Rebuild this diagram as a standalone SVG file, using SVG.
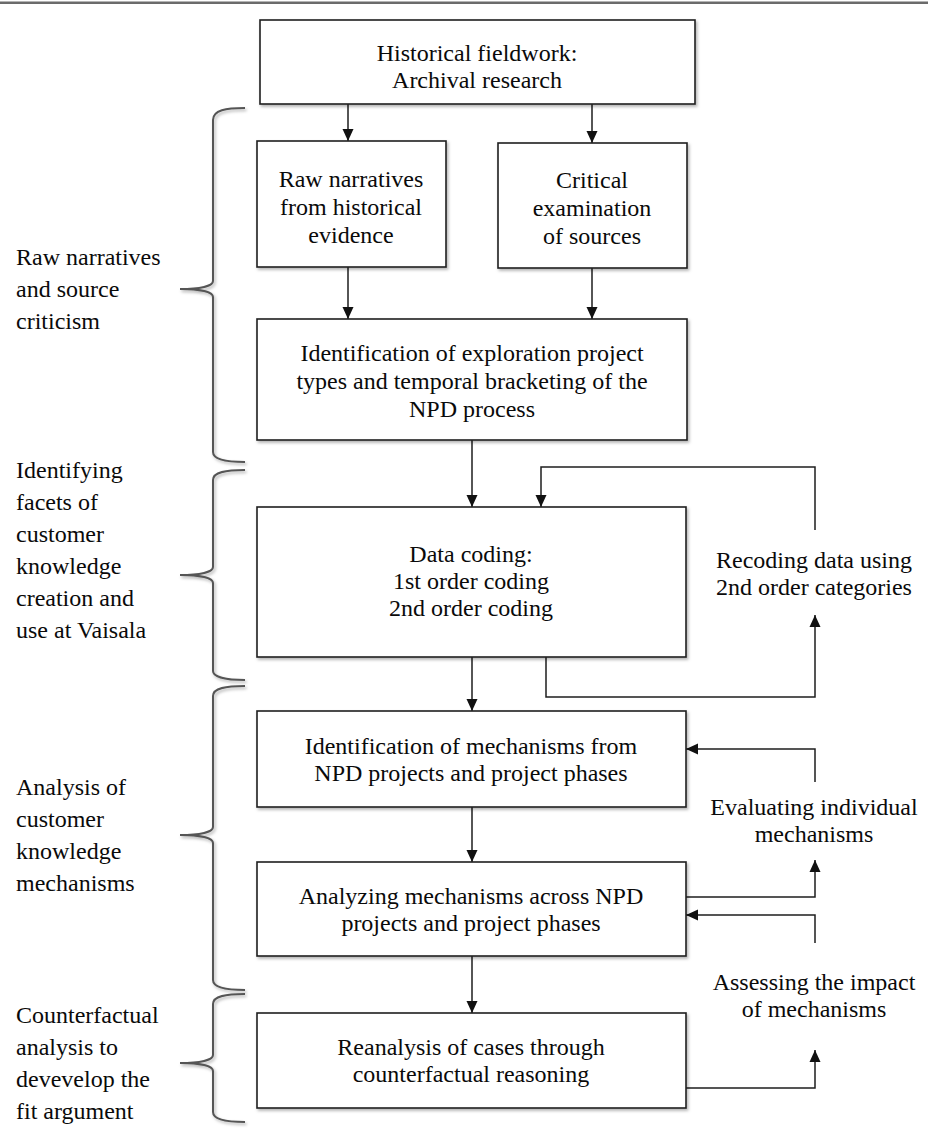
<svg xmlns="http://www.w3.org/2000/svg" width="928" height="1142" viewBox="0 0 928 1142" font-family="'Liberation Serif', 'Times New Roman', 'DejaVu Serif', serif">
<style>
  .box { fill: #ffffff; stroke: #1e1e1e; stroke-width: 1.6; filter: url(#shadow); }
  .t { font-family: 'Liberation Serif', 'Times New Roman', 'DejaVu Serif', serif; font-size: 24px; fill: #0a0a0a; }
  .c { text-anchor: middle; }
  .conn { fill: none; stroke: #1e1e1e; stroke-width: 1.5; }
  .arr { marker-end: url(#ah); }
  .brace { fill: none; stroke: #555555; stroke-width: 2; filter: url(#shadow); }
</style>
<defs>
  <filter id="shadow" x="-10%" y="-10%" width="130%" height="130%">
    <feDropShadow dx="1.5" dy="2" stdDeviation="1.5" flood-color="#000000" flood-opacity="0.3"/>
  </filter>
  <marker id="ah" markerUnits="userSpaceOnUse" markerWidth="12" markerHeight="12" refX="12" refY="6" orient="auto">
    <path d="M0,0.5 L12,6 L0,11.5 z" fill="#111111"/>
  </marker>
</defs>
<rect width="928" height="1142" fill="#ffffff"/>
<rect x="0" y="1.5" width="928" height="2.5" fill="#6b6b6b"/>

<g id="braces">
  <path class="brace" d="M245,108 C226,108 213,110 213,120 L213,281 C213,286 200,289 180,289 C200,289 213,292 213,297 L213,452 C213,459 226,462 245,462"/>
  <path class="brace" d="M245,470 C226,470 213,472 213,480 L213,567 C213,572 200,575 180,575 C200,575 213,578 213,583 L213,671 C213,677 226,680 245,680"/>
  <path class="brace" d="M245,686 C226,686 213,688 213,696 L213,827 C213,832 200,835 180,835 C200,835 213,838 213,843 L213,980 C213,987 226,990 245,990"/>
  <path class="brace" d="M245,994 C226,994 213,996 213,1004 L213,1055 C213,1060 200,1063 180,1063 C200,1063 213,1066 213,1071 L213,1112 C213,1119 226,1122 245,1122"/>
</g>

<g id="label-raw">
  <text class="t" x="16" y="265">Raw narratives</text>
  <text class="t" x="16" y="297">and source</text>
  <text class="t" x="16" y="329">criticism</text>
</g>
<g id="label-identifying">
  <text class="t" x="16" y="478">Identifying</text>
  <text class="t" x="16" y="510">facets of</text>
  <text class="t" x="16" y="542">customer</text>
  <text class="t" x="16" y="574">knowledge</text>
  <text class="t" x="16" y="606">creation and</text>
  <text class="t" x="16" y="638">use at Vaisala</text>
</g>
<g id="label-analysis">
  <text class="t" x="16" y="795">Analysis of</text>
  <text class="t" x="16" y="827">customer</text>
  <text class="t" x="16" y="859">knowledge</text>
  <text class="t" x="16" y="891">mechanisms</text>
</g>
<g id="label-counterfactual">
  <text class="t" x="16" y="1023">Counterfactual</text>
  <text class="t" x="16" y="1055">analysis to</text>
  <text class="t" x="16" y="1087">devevelop the</text>
  <text class="t" x="16" y="1119">fit argument</text>
</g>

<g id="connectors">
  <path class="conn arr" d="M348,104 L348,141"/>
  <path class="conn arr" d="M592,104 L592,143"/>
  <path class="conn arr" d="M348,267 L348,319"/>
  <path class="conn arr" d="M592,268 L592,319"/>
  <path class="conn arr" d="M472,440 L472,507"/>
  <path class="conn arr" d="M815,530 L815,467 L541,467 L541,507"/>
  <path class="conn arr" d="M546,657 L546,697 L815,697 L815,615"/>
  <path class="conn arr" d="M472,657 L472,711"/>
  <path class="conn arr" d="M815,782 L815,749 L686,749"/>
  <path class="conn arr" d="M472,807 L472,862"/>
  <path class="conn arr" d="M686,897 L815,897 L815,860"/>
  <path class="conn arr" d="M815,943 L815,915 L686,915"/>
  <path class="conn arr" d="M472,956 L472,1013"/>
  <path class="conn arr" d="M686,1088 L815,1088 L815,1050"/>
</g>

<g id="node-fieldwork">
  <rect class="box" x="260" y="20" width="435" height="84"/>
  <text class="t c" x="477" y="61">Historical fieldwork:</text>
  <text class="t c" x="477" y="88">Archival research</text>
</g>
<g id="node-raw">
  <rect class="box" x="257" y="141" width="189" height="126"/>
  <text class="t c" x="351" y="187">Raw narratives</text>
  <text class="t c" x="351" y="215">from historical</text>
  <text class="t c" x="351" y="243">evidence</text>
</g>
<g id="node-critical">
  <rect class="box" x="498" y="143" width="189" height="125"/>
  <text class="t c" x="592" y="188">Critical</text>
  <text class="t c" x="592" y="216">examination</text>
  <text class="t c" x="592" y="244">of sources</text>
</g>
<g id="node-identification">
  <rect class="box" x="257" y="319" width="430" height="121"/>
  <text class="t c" x="472" y="361">Identification of exploration project</text>
  <text class="t c" x="472" y="389">types and temporal bracketing of the</text>
  <text class="t c" x="472" y="417">NPD process</text>
</g>
<g id="node-datacoding">
  <rect class="box" x="257" y="507" width="429" height="150"/>
  <text class="t c" x="471" y="562">Data coding:</text>
  <text class="t c" x="471" y="589">1st order coding</text>
  <text class="t c" x="471" y="616">2nd order coding</text>
</g>
<g id="node-mechanisms">
  <rect class="box" x="257" y="711" width="429" height="96"/>
  <text class="t c" x="471" y="754">Identification of mechanisms from</text>
  <text class="t c" x="471" y="781">NPD projects and project phases</text>
</g>
<g id="node-analyzing">
  <rect class="box" x="257" y="862" width="429" height="94"/>
  <text class="t c" x="471" y="904">Analyzing mechanisms across NPD</text>
  <text class="t c" x="471" y="931">projects and project phases</text>
</g>
<g id="node-reanalysis">
  <rect class="box" x="257" y="1013" width="429" height="95"/>
  <text class="t c" x="471" y="1055">Reanalysis of cases through</text>
  <text class="t c" x="471" y="1082">counterfactual reasoning</text>
</g>

<g id="node-recoding">
  <text class="t c" x="814" y="568">Recoding data using</text>
  <text class="t c" x="814" y="595">2nd order categories</text>
</g>
<g id="node-evaluating">
  <text class="t c" x="814" y="815">Evaluating individual</text>
  <text class="t c" x="814" y="842">mechanisms</text>
</g>
<g id="node-assessing">
  <text class="t c" x="814" y="990">Assessing the impact</text>
  <text class="t c" x="814" y="1017">of mechanisms</text>
</g>
</svg>
